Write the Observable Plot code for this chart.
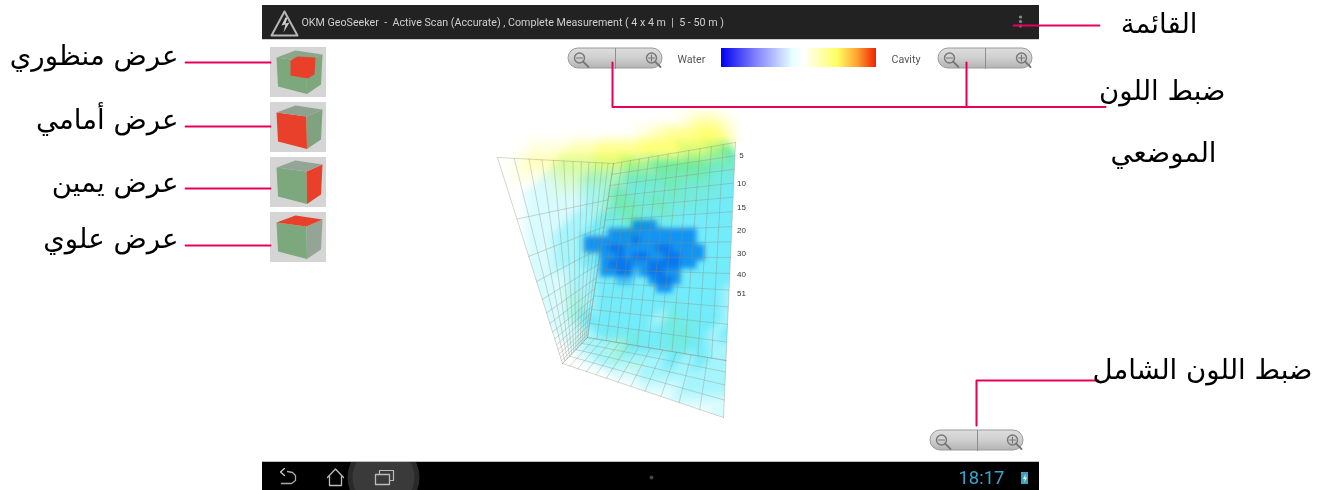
<!DOCTYPE html>
<html><head><meta charset="utf-8">
<style>html,body{margin:0;padding:0;background:#fff;overflow:hidden}svg{display:block;filter:blur(.35px)}</style>
<script src="https://cdn.jsdelivr.net/npm/d3@7"></script>
<script src="https://cdn.jsdelivr.net/npm/@observablehq/plot@0.6"></script>
</head><body><div id="chart"></div>
<script>
// ---------- texts ----------
const appTitle = "OKM GeoSeeker  -  Active Scan (Accurate) , Complete Measurement ( 4 x 4 m  |  5 - 50 m )";
const viewLabels = ["عرض منظوري","عرض أمامي","عرض يمين","عرض علوي"];
const viewLabelY = [56,120,183,239];
const viewLineY = [62,126,188,245];
const viewBoxY = [47,102,157,212];
const sideLabels = [
  {t:"القائمة",x:1197,y:24},
  {t:"ضبط اللون",x:1225,y:91},
  {t:"الموضعي",x:1216,y:153},
  {t:"ضبط اللون الشامل",x:1312,y:370}];
const depthLabels = ["5","10","15","20","30","40","51"];
const depthLabelY = [155,183,207,230,253,274,293];

// ---------- colour scale of the scan ----------
const scanLevels = [0,1,2,3,4,5,6, 10,11,12,13,14];
const scanColors = ["#0a78ec","#1494f2","#3cc0f6","#72ebfa","#a6f5fc","#d8fbff","#ffffff",
                    "#ffffff","#ffffe4","#ffffb8","#ffff94","#ffff70"];
const legendOffsets = [0,.22,.46,.53,.75,.88,1];
const legendColors = ["#0000f0","#7f7fff","#e6ffff","#ffffff","#ffff60","#ffa030","#f02000"];

// ---------- scan values ----------
const gridX = [490,504,518,532,546,560,574,588,602,616,630,644,658,672,686,700,714,728,742];
const coverY = [136,150,164,178,192,206,220,234,248,262,276,290,304,318,332,346,360,374,388,402,416,430];
const coverRows = [
"6666666666666666666",
"6666666666666655436",
"6666655555443333333",
"6666555444333333333",
"6665555443333333333",
"6665555443333333333",
"6665554433333333333",
"6665544333332333333",
"6665544333322233333",
"6665544333322333333",
"6665554433333333333",
"6665554433333333343",
"6666554433333333343",
"6666554333334333343",
"6666655433333333433",
"6666665444333333443",
"6666666544444343443",
"6666666665544444444",
"6666666666655544444",
"6666666666666555554",
"6666666666666666555",
"6666666666666666666"];
const warmY = [104,118,132,146,160,174,188,202,216,230,244,258,272,286,300,314,328,342,356,370];
const warmRows = [
"0000000000000000000",
"0000000000000012210",
"0000000000012334420",
"0001112233344444430",
"0012233344433333220",
"0011122222222222110",
"0000011112111211100",
"0000000012212111000",
"0000000011211100000",
"0000000000100000000",
"0000000000000000000",
"0000000000000000000",
"0000000000000000000",
"0000000000000000000",
"0000001000000000000",
"0000001000000100000",
"0000000000000110000",
"0000000001100110000",
"0000000001000000000",
"0000000000100000000"];
const blobX = [576,584,592,600,608,616,624,632,640,648,656,664,672,680,688,696];
const blobY = [220,228,236,244,252,260,268,276,284];
const blobRows = [
".......111......",
"....11111111111.",
".11111101111111.",
".111001111001111",
"...1101001100111",
"...100011000011.",
"...1100210011...",
".....22..1001...",
"..........11...."];

// ---------- perspective walls ----------
const leftWall  = [[497,157],[613,163],[587,337],[562,363]];
const rightWall = [[613,163],[735,142],[725.5,360],[587,337]];
const floorWall = [[587,337],[725.5,360],[723,417],[562,363]];

function table(xs, ys, rows, add){
  const out=[];
  rows.forEach((r,j)=>[...r].forEach((c,i)=>out.push({x:xs[i],y:ys[j],v:+c+add})));
  return out;
}
function homography([p0,p1,p2,p3]){
  const sx=p0[0]-p1[0]+p2[0]-p3[0], sy=p0[1]-p1[1]+p2[1]-p3[1];
  const dx1=p1[0]-p2[0], dx2=p3[0]-p2[0], dy1=p1[1]-p2[1], dy2=p3[1]-p2[1];
  const den=dx1*dy2-dx2*dy1;
  const g=(sx*dy2-dx2*sy)/den, h=(dx1*sy-sx*dy1)/den;
  return (u,v)=>{const w=g*u+h*v+1;
    return [(p0[0]+(p1[0]-p0[0]+g*p1[0])*u+(p3[0]-p0[0]+h*p3[0])*v)/w,
            (p0[1]+(p1[1]-p0[1]+g*p1[1])*u+(p3[1]-p0[1]+h*p3[1])*v)/w];};
}
function wallLines(q,name,nu,nv){
  const f=homography(q), out=[];
  for(let i=0;i<=nu;i++){const t=i/nu; out.push({k:name+"u"+i,p:f(t,0)},{k:name+"u"+i,p:f(t,1)});}
  for(let i=0;i<=nv;i++){const t=i/nv; out.push({k:name+"v"+i,p:f(0,t)},{k:name+"v"+i,p:f(1,t)});}
  return out;
}
const gridLines=[...wallLines(leftWall,"l",12,14),...wallLines(rightWall,"r",12,14),...wallLines(floorWall,"f",12,4)];

// ---------- helpers ----------
const soft=(px,blend)=>(i,s,v,d,c,next)=>{const g=next(i,s,v,d,c);g.style.filter=`blur(${px}px)`;if(blend)g.style.mixBlendMode=blend;return g;};
const line=(pts,stroke,w=1,extra={})=>Plot.line(pts,{stroke,strokeWidth:w,curve:"linear",...extra});
const poly=(pts,fill,extra={})=>Plot.line(pts,{fill,stroke:"none",curve:"linear",...extra});
const rect=(x1,y1,x2,y2,fill,extra={})=>Plot.rect([0],{x1:()=>x1,x2:()=>x2,y1:()=>y1,y2:()=>y2,fill,...extra});
const label=(t,x,y,o)=>Plot.text([t],{text:d=>d,x:()=>x,y:()=>y,...o});
const PINK="#e6005c";

// cube icon
const CUBE={tl:[6,10],tb:[25,3],tr:[52,7],tf:[36,14],bl:[7.5,39],bf:[36.5,46.5],br:[50.5,37]};
function cube(y0,front,right,top,inner){
  const o=p=>[270+p[0],y0+p[1]], c=CUBE;
  const m=[rect(270,y0,326,y0+50,"#d5d5d5"),
    poly([c.tl,c.tf,c.bf,c.bl].map(o),front),
    poly([c.tf,c.tr,c.br,c.bf].map(o),right),
    poly([c.tl,c.tb,c.tr,c.tf].map(o),top)];
  if(inner) m.push(
    poly([[20,13],[27,9],[45,10],[44,27],[37,31],[20,28]].map(o),"#e8402a"));
  return m;
}
// zoom control
function zoomCtl(x1,x2,xm,y1){
  const y2=y1+20, cy=y1+9.5, a=x1+11, b=x2-11;
  const lens=(cx)=>[
    Plot.dot([0],{x:()=>cx,y:()=>cy,r:5,stroke:"#777",strokeWidth:1.4,fill:"none"}),
    line([[cx+3.5,cy+3.5],[cx+9,cy+9]],"#777",1.8),
    line([[cx-3,cy],[cx+3,cy]],"#777",1.2)];
  return [rect(x1,y1,x2,y2,"url(#btn)",{rx:10,stroke:"#9a9a9a",strokeWidth:1}),
    line([[xm,y1],[xm,y2]],"#8d8d8d",1),
    ...lens(a),...lens(b),line([[b,cy-3],[b,cy+3]],"#777",1.2)];
}
const defs=()=>{
  const svg=d3.create("svg:defs");
  const g=svg.append("linearGradient").attr("id","legend");
  legendOffsets.forEach((o,i)=>g.append("stop").attr("offset",o).attr("stop-color",legendColors[i]));
  const b=svg.append("linearGradient").attr("id","btn").attr("x2",0).attr("y2",1);
  [[0,"#dedede"],[.5,"#cfcfcf"],[1,"#b4b4b4"]].forEach(([o,c])=>b.append("stop").attr("offset",o).attr("stop-color",c));
  return svg.node();
};

const ROBOTO={fontFamily:"Roboto",textAnchor:"start"};
const AR={fontFamily:"DejaVu Sans",fontSize:27.6,textAnchor:"end",fill:"#000"};

const chart=Plot.plot({
  width:1324,height:490,margin:0,
  style:{background:"#fff"},
  x:{domain:[0,1324],range:[0,1324],axis:null},
  y:{domain:[0,490],range:[0,490],axis:null},
  color:{type:"linear",domain:scanLevels,range:scanColors},
  marks:[
    defs,
    // app chrome
    rect(262,5,1039,39,"#222222"),
    rect(262,39,1039,40,"#cfcfcf"),
    label(appTitle,301,22.5,{...ROBOTO,fontSize:10.7,fill:"#cfcfcf"}),
    line([[284,11],[297,35],[271,35],[284,11]],"#b5b5b5",2),
    poly([[285,17],[281,25],[285,24],[283,32],[289,22],[285,23],[287,17]],"#cfcfcf"),
    Plot.dot([16.5,21,25.5],{x:()=>1020,y:d=>d,r:1.6,fill:"#8a8a8a"}),
    // scan volume
    Plot.raster(table(gridX,coverY,coverRows,0),{x:"x",y:"y",fill:"v",interpolate:"barycentric",x1:480,x2:750,y1:100,y2:432,width:270,height:332,render:soft(2)}),
    Plot.rect(table(blobX,blobY,blobRows.map(r=>r.replace(/\./g,"7")),0).filter(d=>d.v<7),
      {x1:"x",x2:d=>d.x+8.5,y1:"y",y2:d=>d.y+8.5,fill:"v",render:soft(2.4)}),
    Plot.raster(table(gridX,warmY,warmRows,10),{x:"x",y:"y",fill:"v",interpolate:"barycentric",x1:480,x2:750,y1:100,y2:432,width:270,height:332,render:soft(3,"multiply")}),
    poly([[480,150],[497,157],[562,363],[723,417],[723,432],[480,432]],"#fff"),
    poly([[735,142],[723,417],[723,432],[750,432],[750,142]],"#fff"),
    Plot.line(gridLines,{x:d=>d.p[0],y:d=>d.p[1],z:"k",stroke:"#8d8d78",strokeOpacity:.45,strokeWidth:.8,curve:"linear"}),
    Plot.text(depthLabels,{text:d=>d,x:()=>741,y:(d,i)=>depthLabelY[i],fontSize:8,fontFamily:"Liberation Sans, sans-serif",fill:"#333"}),
    // view icons
    ...cube(viewBoxY[0],"#7da87d","#7da87d","#8aa78a",true),
    ...cube(viewBoxY[1],"#e8402a","#7fa37f","#8fa28f"),
    ...cube(viewBoxY[2],"#7da87d","#e8402a","#95a595"),
    ...cube(viewBoxY[3],"#7da87d","#95a595","#e8402a"),
    // colour controls
    ...zoomCtl(568,662,615,48),
    ...zoomCtl(938,1032,985,48),
    ...zoomCtl(930,1023,977,430),
    rect(721,48,876,67,"url(#legend)"),
    label("Water",677,59.5,{...ROBOTO,fontSize:10.7,fill:"#555"}),
    label("Cavity",891,59.5,{...ROBOTO,fontSize:10.7,fill:"#555"}),
    // navigation bar
    rect(262,462,1039,490,"#000"),
    Plot.dot([0],{x:()=>383,y:()=>477,r:36,fill:"#2a2a2a"}),
    Plot.dot([0],{x:()=>383,y:()=>477,r:31,fill:"#3a3a3a"}),
    rect(340,438,426,461,"#fff"),
    rect(262,461,1039,462,"#bdbdbd"),
    line([[287,471],[292,472],[295,475],[295,480],[291,483],[281,483]],"#aaa",1.3),
    line([[284,468],[280,471.5],[284,475]],"#ccc",1.3),
    line([[327,477],[335,468.5],[343,477]],"#bbb",1.3),
    line([[329,476],[329,485],[341,485],[341,476]],"#bbb",1.3),
    line([[375,474],[389,474],[389,484],[375,484],[375,474]],"#bbb",1.3),
    line([[379,473],[379,470],[393,470],[393,480],[390,480]],"#bbb",1.2),
    Plot.dot([0],{x:()=>651,y:()=>477,r:2,fill:"#444"}),
    label("18:17",958,478,{...ROBOTO,fontSize:18.4,fill:"#39a5cc"}),
    rect(1021,472,1028,484,"#3f9fbe"),
    poly([[1025,473.5],[1022.5,478.5],[1024.5,478.5],[1023.5,482.5],[1026.5,477],[1024.8,477]],"#dff"),
    // callouts
    ...viewLineY.map(y=>line([[185,y],[270,y]],PINK,1.8)),
    line([[1013,25],[1099,25]],PINK,1.8),
    line([[612,62],[612,106.5],[1105,106.5]],PINK,2),
    line([[966,62],[966,106.5]],PINK,2),
    line([[976,425],[976,380],[1098,380]],PINK,2),
    Plot.text(viewLabels,{text:d=>d,x:()=>178,y:(d,i)=>viewLabelY[i],...AR}),
    Plot.text(sideLabels,{text:"t",x:"x",y:"y",...AR})
  ]
});
document.getElementById("chart").append(chart);
</script></body></html>
